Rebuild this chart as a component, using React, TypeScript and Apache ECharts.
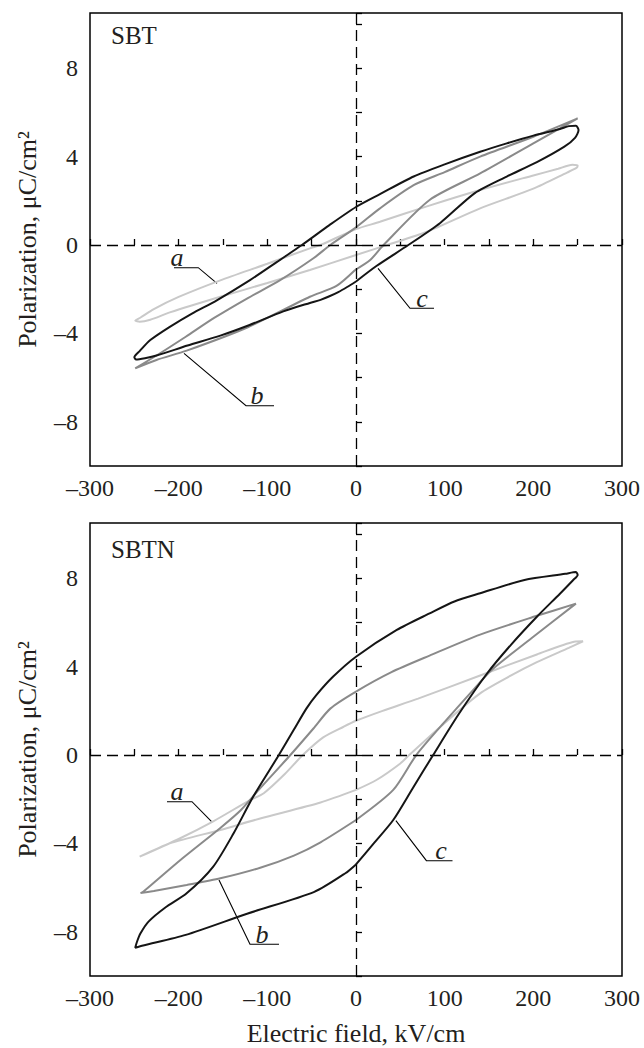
import React, { useEffect, useRef } from "react";
import * as echarts from "echarts";

// ---------- data (E, kV/cm ; P, uC/cm^2), each loop traced as a closed path ----------
const panelTitles = ["SBT", "SBTN"];
const curveLetters = ["a", "b", "c"];
const xTitle = "Electric field, kV/cm";
const yTitle = "Polarization, \u03bcC/cm\u00b2";

const sbtA: number[][] = [
  [0, -0.45], [35, 0], [80, 0.6], [140, 1.66], [200, 2.55], [238, 3.28], [249, 3.5], [250, 3.6], [244, 3.63],
  [228, 3.45], [200, 3.15], [140, 2.49], [80, 1.75], [27, 1.05], [0, 0.72], [-40, 0], [-52, -0.15],
  [-100, -0.85], [-153, -1.6], [-200, -2.35], [-228, -2.9], [-243, -3.28], [-249, -3.42], [-244, -3.47],
  [-232, -3.38], [-210, -3.05], [-153, -2.34], [-100, -1.72], [-52, -1.13], [0, -0.45],
];
const sbtB: number[][] = [
  [-1, -1.13], [16, -0.68], [31, 0], [83, 2.04], [140, 3.24], [200, 4.6], [250, 5.73], [200, 4.9],
  [140, 4.0], [100, 3.3], [65, 2.71], [27, 1.66], [0, 0.8], [-29, 0], [-48, -0.6], [-86, -1.6],
  [-122, -2.4], [-160, -3.3], [-192, -4.15], [-225, -5.0], [-249, -5.58], [-225, -5.2], [-191, -4.78],
  [-122, -3.72], [-52, -2.34], [-22, -1.85], [-1, -1.13],
];
const sbtC: number[][] = [
  [0, -1.65], [23, -0.95], [59, 0], [95, 1.0], [134, 2.35], [170, 3.1], [204, 3.75], [235, 4.45],
  [247, 4.85], [251, 5.2], [248, 5.4], [240, 5.38], [230, 5.25], [200, 4.95], [170, 4.6], [140, 4.22],
  [100, 3.65], [65, 3.1], [27, 2.3], [0, 1.72], [-30, 0.9], [-61, 0], [-86, -0.68], [-120, -1.6],
  [-157, -2.5], [-185, -3.1], [-210, -3.7], [-232, -4.3], [-244, -4.8], [-250, -5.08], [-248, -5.18],
  [-238, -5.12], [-225, -5.0], [-190, -4.55], [-153, -4.1], [-120, -3.62], [-82, -3.0], [-52, -2.62],
  [-40, -2.48], [-30, -2.32], [-20, -2.13], [-10, -1.9], [0, -1.65],
];
const sbtnA: number[][] = [
  [0, -1.58], [23, -1.13], [50, -0.38], [60, 0], [100, 1.45], [140, 2.79], [175, 3.6], [204, 4.2],
  [240, 4.85], [256, 5.15], [246, 5.13], [204, 4.55], [140, 3.6], [70, 2.55], [30, 2.0],
  [0, 1.55], [-14, 1.28], [-37, 0.8], [-60, 0], [-80, -0.85], [-104, -1.73], [-120, -2.05], [-161, -3.0],
  [-200, -3.8], [-244, -4.6], [-210, -4.0], [-153, -3.39], [-108, -2.87], [-40, -2.15], [0, -1.58],
];
const sbtnB: number[][] = [
  [0, -2.94], [42, -1.58], [68, 0], [100, 1.5], [132, 2.94], [153, 3.85], [200, 5.35], [248, 6.85],
  [204, 6.3], [140, 5.45], [83, 4.5], [40, 3.75], [0, 2.87], [-29, 2.1], [-48, 1.2], [-74, 0],
  [-108, -1.5], [-130, -2.5], [-153, -3.3], [-198, -4.75], [-240, -6.19], [-243, -6.25], [-228, -6.15],
  [-191, -5.88], [-153, -5.58], [-108, -5.1], [-70, -4.55], [-40, -3.95], [0, -2.94],
];
const sbtnC: number[][] = [
  [0, -4.95], [20, -4.0], [42, -2.94], [64, -1.5], [87, 0], [115, 1.8], [148, 3.7], [175, 5.0],
  [204, 6.26], [230, 7.3], [245, 7.92], [250, 8.15], [248, 8.28], [236, 8.2], [190, 7.92], [140, 7.32],
  [111, 6.95], [83, 6.41], [46, 5.66], [0, 4.45], [-26, 3.54], [-45, 2.7], [-56, 2.1], [-70, 1.15],
  [-87, 0], [-116, -1.89], [-138, -3.54], [-161, -5.05], [-191, -6.26], [-215, -6.9], [-234, -7.54],
  [-243, -8.07], [-247, -8.45], [-249, -8.72], [-240, -8.62], [-192, -8.14], [-122, -7.17], [-47, -6.19],
  [-12, -5.35], [0, -4.95],
];

const panels = [
  [sbtA, sbtB, sbtC],
  [sbtnA, sbtnB, sbtnC],
];

// ---------- styling ----------
const FONT = "Liberation Serif";
const TXT = "#231f20";
const curveColors = ["#c9c9c9", "#8a8a8a", "#151515"];
const gridTops = [13, 523];
const GRID_LEFT = 90;
const GRID_W = 532;
const GRID_H = 453;

// leader annotations (pixel layout): [textX, textY(bottom), polyline points]
const leaders: [number, number, number[][]][][] = [
  [
    [177, 270, [[174, 267.7], [198.3, 267.7], [217, 283.3]]],
    [257, 408, [[274, 405.7], [246, 405.7], [184, 353.3]]],
    [422, 311, [[434, 308.3], [410, 308.3], [378, 268.3]]],
  ],
  [
    [177, 804, [[167, 801.7], [192, 801.7], [211.6, 821.7]]],
    [262, 947, [[279, 944.3], [250, 944.3], [219, 880]]],
    [441, 863, [[452.5, 860.7], [426.4, 860.7], [395.9, 820.7]]],
  ],
];
const panelTitleY = [37, 551];

const fmt = (v: number) => (v < 0 ? "\u2013" + Math.abs(v) : String(v));

export default function App() {
  const ref = useRef<HTMLDivElement>(null);
  useEffect(() => {
    if (!ref.current) return;
    const chart = echarts.init(ref.current, undefined, { renderer: "svg" });

    const grids = gridTops.map((t) => ({
      left: GRID_LEFT,
      top: t,
      width: GRID_W,
      height: GRID_H,
      show: true,
      borderColor: "#000",
      borderWidth: 1.5,
      backgroundColor: "transparent",
    }));

    const xAxes = gridTops.map((_, i) => ({
      type: "value",
      gridIndex: i,
      min: -300,
      max: 300,
      interval: 50,
      axisLine: { show: false },
      axisTick: { show: true, inside: true, length: 6, lineStyle: { color: "#000", width: 1.3 } },
      splitLine: { show: false },
      axisLabel: {
        formatter: (v: number) => (v % 100 === 0 ? fmt(v) : ""),
        fontFamily: FONT,
        fontSize: 24,
        color: TXT,
        margin: 10,
        showMinLabel: true,
        showMaxLabel: true,
      },
      name: i === 1 ? xTitle : "",
      nameLocation: "middle",
      nameGap: 44,
      nameTextStyle: { fontFamily: FONT, fontSize: 26, color: TXT },
    }));

    const yAxes = gridTops.map((_, i) => ({
      type: "value",
      gridIndex: i,
      min: -10,
      max: 10.5,
      interval: 2,
      axisLine: { show: false },
      axisTick: { show: true, inside: true, length: 6, lineStyle: { color: "#000", width: 1.3 } },
      splitLine: { show: false },
      axisLabel: {
        formatter: (v: number) => (v % 4 === 0 && Math.abs(v) <= 8 ? fmt(v) : ""),
        fontFamily: FONT,
        fontSize: 24,
        color: TXT,
        margin: 12,
      },
      name: yTitle,
      nameLocation: "middle",
      nameRotate: 90,
      nameGap: 50,
      nameTextStyle: { fontFamily: FONT, fontSize: 26, color: TXT },
    }));

    const series: any[] = [];
    panels.forEach((curves, gi) => {
      curves.forEach((data, ci) => {
        series.push({
          type: "line",
          xAxisIndex: gi,
          yAxisIndex: gi,
          data,
          symbol: "none",
          showSymbol: false,
          smooth: 0.25,
          silent: true,
          z: 3 + ci,
          lineStyle: { color: curveColors[ci], width: 2 },
          markLine:
            ci === 0
              ? {
                  silent: true,
                  symbol: "none",
                  label: { show: false },
                  lineStyle: { color: "#000", width: 1.3, type: [11, 6] },
                  data: [{ xAxis: 0 }, { yAxis: 0 }],
                }
              : undefined,
        });
      });
    });

    const graphic: any[] = [];
    panelTitles.forEach((t, gi) => {
      graphic.push({
        type: "text",
        left: 111,
        top: panelTitleY[gi] - 14,
        style: { text: t, fontFamily: FONT, fontSize: 25, fill: TXT },
      });
      leaders[gi].forEach(([tx, ty, pts], ci) => {
        graphic.push({
          type: "polyline",
          shape: { points: pts },
          style: { stroke: "#000", lineWidth: 1.1, fill: null },
        });
        graphic.push({
          type: "text",
          x: tx,
          y: ty,
          style: {
            text: curveLetters[ci],
            fontFamily: FONT,
            fontStyle: "italic",
            fontSize: 26,
            fill: TXT,
            align: "center",
            verticalAlign: "bottom",
          },
        });
      });
    });

    chart.setOption({
      animation: false,
      backgroundColor: "#fff",
      grid: grids,
      xAxis: xAxes,
      yAxis: yAxes,
      series,
      graphic,
    });
    return () => chart.dispose();
  }, []);

  return (
    <div
      ref={ref}
      style={{ position: "absolute", left: 0, top: 0, width: 644, height: 1048, background: "#fff" }}
    />
  );
}
